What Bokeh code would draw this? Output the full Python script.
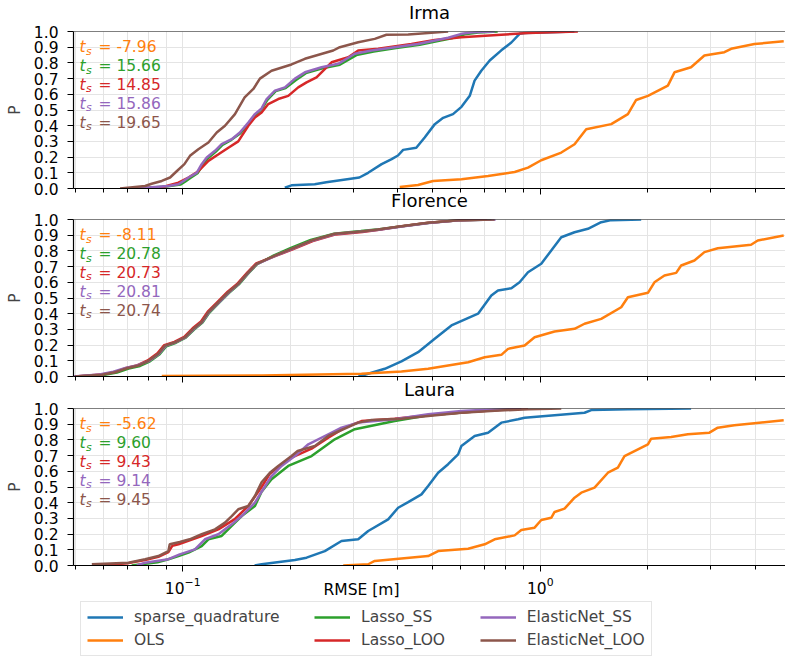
import numpy as np
from bokeh.plotting import figure
from bokeh.models import (Range1d, FixedTicker, Label, Legend, LegendItem, Span,
                          PrintfTickFormatter)
from bokeh.layouts import column
from bokeh.embed import file_html
from bokeh.resources import INLINE

# ---------------------------------------------------------------- data
METHODS = ["sparse_quadrature", "OLS", "Lasso_SS", "Lasso_LOO",
           "ElasticNet_SS", "ElasticNet_LOO"]
COLORS = ["#1f77b4", "#ff7f0e", "#2ca02c", "#d62728", "#9467bd", "#8c564b"]

# t_s statistics (OLS, Lasso_SS, Lasso_LOO, ElasticNet_SS, ElasticNet_LOO)
TS_IRMA = [-7.96, 15.66, 14.85, 15.86, 19.65]
TS_FLORENCE = [-8.11, 20.78, 20.73, 20.81, 20.74]
TS_LAURA = [-5.62, 9.60, 9.43, 9.14, 9.45]

# --- Irma: empirical CDF of RMSE [m]
IRMA_SPARSE_X = [0.193, 0.2015, 0.234, 0.252, 0.312, 0.330, 0.360, 0.384, 0.400, 0.4135,
                 0.450, 0.475, 0.507, 0.535, 0.570, 0.602, 0.635, 0.655, 0.684, 0.722,
                 0.778, 0.830, 0.875, 0.902, 1.245]
IRMA_SPARSE_P = [0.005, 0.02, 0.027, 0.04, 0.07, 0.10, 0.155, 0.187, 0.21, 0.246,
                 0.26, 0.325, 0.41, 0.45, 0.474, 0.52, 0.59, 0.687, 0.75, 0.815,
                 0.88, 0.93, 0.985, 0.99, 1.0]
IRMA_OLS_X = [0.4045, 0.455, 0.5015, 0.602, 0.7145, 0.848, 0.924, 1.006, 1.145, 1.247,
              1.344, 1.579, 1.758, 1.854, 2.0, 2.274, 2.373, 2.64, 2.877, 3.272,
              3.417, 3.97, 4.795]
IRMA_OLS_P = [0.01, 0.022, 0.048, 0.059, 0.08, 0.105, 0.133, 0.18, 0.229, 0.282,
              0.378, 0.41, 0.474, 0.564, 0.59, 0.655, 0.74, 0.772, 0.847, 0.868,
              0.89, 0.92, 0.938]
IRMA_LSS_X = [0.075, 0.090, 0.0985, 0.1015, 0.1048, 0.1100, 0.1138, 0.1172, 0.1238, 0.1292,
              0.1368, 0.1450, 0.1530, 0.1598, 0.1668, 0.1725, 0.1820, 0.1940, 0.2070, 0.2210,
              0.2460, 0.2750, 0.3060, 0.3420, 0.3950, 0.4600, 0.5050, 0.5650, 0.6150, 0.6700,
              0.7600]
IRMA_LSS_P = [0.0, 0.012, 0.025, 0.043, 0.066, 0.097, 0.15, 0.19, 0.235, 0.278,
              0.31, 0.352, 0.415, 0.468, 0.51, 0.565, 0.62, 0.64, 0.69, 0.735,
              0.765, 0.788, 0.85, 0.873, 0.895, 0.916, 0.934, 0.957, 0.982, 0.994,
              1.0]
IRMA_LLOO_X = [0.0768, 0.088, 0.0973, 0.1038, 0.1106, 0.118, 0.1259, 0.1342, 0.143, 0.1526,
               0.1592, 0.1662, 0.1735, 0.185, 0.1973, 0.2104, 0.222, 0.2367, 0.2608, 0.2903,
               0.3096, 0.352, 0.4361, 0.5067, 0.6017, 0.7782, 0.924, 1.274]
IRMA_LLOO_P = [0.0, 0.01, 0.037, 0.07, 0.11, 0.176, 0.218, 0.26, 0.30, 0.40,
               0.452, 0.484, 0.538, 0.57, 0.59, 0.644, 0.676, 0.708, 0.804, 0.836,
               0.879, 0.89, 0.92, 0.946, 0.963, 0.98, 0.99, 1.0]
IRMA_ESS_X = [0.0736, 0.0912, 0.0973, 0.1005, 0.1038, 0.1094, 0.1130, 0.1167, 0.1231, 0.1285,
              0.1371, 0.1445, 0.1526, 0.1592, 0.1662, 0.1717, 0.1811, 0.1931, 0.206, 0.2197,
              0.2445, 0.2722, 0.3029, 0.3373, 0.3917, 0.4552, 0.496, 0.5524, 0.6017, 0.6553,
              0.7455]
IRMA_ESS_P = [0.0, 0.016, 0.027, 0.048, 0.07, 0.10, 0.155, 0.197, 0.24, 0.282,
              0.314, 0.357, 0.42, 0.474, 0.51, 0.57, 0.623, 0.644, 0.70, 0.74,
              0.772, 0.794, 0.858, 0.879, 0.90, 0.92, 0.938, 0.96, 0.985, 0.996,
              1.0]
IRMA_ELOO_X = [0.0668, 0.0785, 0.0819, 0.0874, 0.0922, 0.0962, 0.1011, 0.1048, 0.1106, 0.118,
               0.1245, 0.1313, 0.140, 0.149, 0.1576, 0.1644, 0.1772, 0.2015, 0.2196, 0.2636,
               0.275, 0.3096, 0.3444, 0.3713, 0.4271, 0.529, 0.5524]
IRMA_ELOO_P = [0.0, 0.016, 0.03, 0.048, 0.07, 0.11, 0.155, 0.208, 0.25, 0.293,
               0.357, 0.40, 0.474, 0.58, 0.634, 0.70, 0.75, 0.79, 0.826, 0.879,
               0.90, 0.932, 0.953, 0.979, 0.981, 0.996, 1.0]

# --- Florence
FLOR_SPARSE_X = [0.310, 0.3230, 0.3674, 0.4090, 0.4553, 0.5067, 0.5643, 0.6699, 0.7295, 0.7616,
                 0.830, 0.8752, 0.9239, 1.0064, 1.0733, 1.1446, 1.2468, 1.3591, 1.4805, 1.579,
                 1.915]
FLOR_SPARSE_P = [0.003, 0.011, 0.049, 0.096, 0.155, 0.24, 0.325, 0.40, 0.516, 0.548,
                 0.562, 0.60, 0.664, 0.718, 0.803, 0.887, 0.919, 0.941, 0.983, 0.996,
                 1.0]
FLOR_OLS_X = [0.0874, 0.1662, 0.3162, 0.4090, 0.4857, 0.5524, 0.6284, 0.6991, 0.7782, 0.8125,
              0.9040, 0.9640, 1.0963, 1.2468, 1.3297, 1.4805, 1.6839, 1.758, 2.0, 2.0856,
              2.2245, 2.3987, 2.4770, 2.6977, 2.8771, 3.1359, 3.8855, 4.0566, 4.7940]
FLOR_OLS_P = [0.003, 0.006, 0.017, 0.032, 0.049, 0.07, 0.091, 0.123, 0.138, 0.176,
              0.197, 0.25, 0.287, 0.304, 0.336, 0.367, 0.441, 0.505, 0.533, 0.60,
              0.643, 0.66, 0.707, 0.739, 0.792, 0.817, 0.839, 0.866, 0.898]
FLOR_LSS_X = [0.0505, 0.0600, 0.0655, 0.0706, 0.0760, 0.0810, 0.0862, 0.0900, 0.0958, 0.1020,
              0.1078, 0.1136, 0.1186, 0.1265, 0.1348, 0.1436, 0.1530, 0.1615, 0.1800, 0.2000,
              0.2280, 0.2650, 0.3150, 0.3550, 0.4150, 0.4900, 0.6000, 0.7300]
FLOR_LSS_P = [0.0, 0.010, 0.025, 0.050, 0.067, 0.097, 0.142, 0.193, 0.215, 0.247,
              0.30, 0.343, 0.405, 0.47, 0.533, 0.587, 0.66, 0.715, 0.772, 0.817,
              0.87, 0.91, 0.926, 0.938, 0.958, 0.98, 0.996, 1.0]
FLOR_LLOO_X = [0.0500, 0.0590, 0.0645, 0.0695, 0.0748, 0.0798, 0.0850, 0.0888, 0.0948, 0.1010,
               0.1066, 0.1125, 0.1175, 0.1252, 0.1336, 0.1425, 0.1522, 0.1605, 0.1820, 0.2030,
               0.2310, 0.2680, 0.3180, 0.3500, 0.4050, 0.4800, 0.5900, 0.7100]
FLOR_LLOO_P = [0.0, 0.012, 0.028, 0.054, 0.072, 0.102, 0.148, 0.2, 0.22, 0.253,
               0.307, 0.35, 0.413, 0.476, 0.54, 0.593, 0.667, 0.72, 0.768, 0.81,
               0.862, 0.905, 0.92, 0.933, 0.955, 0.977, 0.995, 1.0]
FLOR_ESS_X = [0.0495, 0.0585, 0.0640, 0.0692, 0.0745, 0.0805, 0.0858, 0.0896, 0.0955, 0.1018,
              0.1075, 0.1133, 0.1183, 0.1262, 0.1345, 0.1433, 0.1528, 0.1612, 0.1815, 0.2020,
              0.2300, 0.2670, 0.3170, 0.3530, 0.4100, 0.4870, 0.6050, 0.7500]
FLOR_ESS_P = [0.0, 0.013, 0.03, 0.055, 0.071, 0.099, 0.144, 0.195, 0.217, 0.249,
              0.302, 0.345, 0.408, 0.471, 0.535, 0.589, 0.662, 0.716, 0.769, 0.812,
              0.865, 0.908, 0.923, 0.935, 0.956, 0.978, 0.996, 1.0]
FLOR_ELOO_X = [0.0500, 0.0594, 0.0647, 0.0698, 0.0752, 0.0802, 0.0855, 0.0893, 0.0952, 0.1015,
               0.1071, 0.1130, 0.1180, 0.1258, 0.1341, 0.1430, 0.1526, 0.1610, 0.1811, 0.2015,
               0.2293, 0.2663, 0.3162, 0.3520, 0.4090, 0.4857, 0.6017, 0.7455]
FLOR_ELOO_P = [0.0, 0.011, 0.027, 0.053, 0.07, 0.10, 0.145, 0.197, 0.218, 0.25,
               0.304, 0.346, 0.41, 0.473, 0.537, 0.59, 0.664, 0.718, 0.77, 0.813,
               0.866, 0.909, 0.924, 0.936, 0.957, 0.979, 0.996, 1.0]

# --- Laura
LAURA_SPARSE_X = [0.1589, 0.1662, 0.2059, 0.2220, 0.2497, 0.2780, 0.3096, 0.3302, 0.3755, 0.4004,
                  0.4271, 0.4653, 0.4857, 0.5180, 0.5524, 0.5891, 0.6017, 0.6553, 0.7145, 0.7782,
                  0.8663, 0.9040, 1.0963, 1.3297, 1.3883, 1.758, 2.6409]
LAURA_SPARSE_P = [0.0, 0.008, 0.035, 0.05, 0.092, 0.156, 0.167, 0.22, 0.294, 0.368,
                  0.404, 0.453, 0.506, 0.591, 0.645, 0.708, 0.761, 0.825, 0.846, 0.91,
                  0.931, 0.941, 0.957, 0.973, 0.99, 0.995, 1.0]
LAURA_OLS_X = [0.2811, 0.3302, 0.3444, 0.4857, 0.5180, 0.6284, 0.6991, 0.7455, 0.8478, 0.8849,
               0.9640, 1.0064, 1.0733, 1.0963, 1.1691, 1.2468, 1.3022, 1.4183, 1.5459, 1.6482,
               1.7199, 1.8342, 2.0, 2.0420, 2.3226, 2.5857, 2.9717, 3.1359, 3.4893, 3.97,
               4.794]
LAURA_OLS_P = [0.0, 0.008, 0.029, 0.06, 0.092, 0.107, 0.135, 0.167, 0.192, 0.226,
               0.241, 0.29, 0.304, 0.341, 0.362, 0.432, 0.464, 0.496, 0.591, 0.623,
               0.697, 0.729, 0.772, 0.808, 0.818, 0.836, 0.846, 0.878, 0.893, 0.906,
               0.925]
LAURA_LSS_X = [0.0720, 0.0850, 0.0912, 0.0973, 0.1038, 0.1130, 0.1180, 0.1285, 0.1371, 0.1462,
               0.1592, 0.1662, 0.1772, 0.1973, 0.2293, 0.2663, 0.3029, 0.3917, 0.4857, 0.6284,
               0.7455, 0.8849]
LAURA_LSS_P = [0.0, 0.02, 0.04, 0.06, 0.082, 0.124, 0.167, 0.188, 0.252, 0.315,
               0.379, 0.47, 0.549, 0.634, 0.697, 0.804, 0.868, 0.92, 0.957, 0.978,
               0.99, 1.0]
LAURA_LLOO_X = [0.0580, 0.0705, 0.0785, 0.0855, 0.0912, 0.0935, 0.0973, 0.1130, 0.1258, 0.1395,
                0.1526, 0.1662, 0.1753, 0.1850, 0.2015, 0.2293, 0.2553, 0.2840, 0.3162, 0.3917,
                0.4857, 0.6284, 0.8300, 0.9239]
LAURA_LLOO_P = [0.0, 0.015, 0.035, 0.055, 0.085, 0.125, 0.135, 0.188, 0.23, 0.294,
                0.379, 0.50, 0.585, 0.628, 0.687, 0.744, 0.814, 0.878, 0.92, 0.935,
                0.957, 0.978, 0.995, 1.0]
LAURA_ESS_X = [0.0744, 0.0785, 0.0912, 0.0981, 0.1082, 0.1154, 0.1258, 0.1371, 0.1462, 0.1592,
               0.1662, 0.1772, 0.1890, 0.2059, 0.2245, 0.2553, 0.2780, 0.3096, 0.3917, 0.4857,
               0.6017, 0.7455, 0.8849]
LAURA_ESS_P = [0.0, 0.018, 0.04, 0.071, 0.103, 0.167, 0.199, 0.262, 0.315, 0.40,
               0.47, 0.57, 0.634, 0.697, 0.772, 0.836, 0.878, 0.91, 0.931, 0.963,
               0.984, 0.995, 1.0]
LAURA_ELOO_X = [0.0557, 0.0705, 0.0785, 0.0855, 0.0912, 0.0920, 0.0981, 0.1046, 0.1130, 0.1231,
                0.1313, 0.1371, 0.1430, 0.1526, 0.1592, 0.1662, 0.1753, 0.1850, 0.2015, 0.2096,
                0.2342, 0.2553, 0.2780, 0.3096, 0.3373, 0.4090, 0.4857, 0.6017, 0.7455, 0.9239,
                1.1446]
LAURA_ELOO_P = [0.008, 0.018, 0.04, 0.06, 0.092, 0.135, 0.15, 0.167, 0.199, 0.23,
                0.273, 0.315, 0.358, 0.379, 0.443, 0.53, 0.591, 0.634, 0.697, 0.729,
                0.761, 0.825, 0.863, 0.91, 0.927, 0.935, 0.952, 0.973, 0.986, 0.995,
                1.0]

Y_TICKS = [0.0, 0.1, 0.2, 0.3, 0.4, 0.5, 0.6, 0.7, 0.8, 0.9, 1.0]
X_MAJOR = [0.1, 1.0]
X_MINOR = [0.05, 0.06, 0.07, 0.08, 0.09, 0.2, 0.3, 0.4, 0.5, 0.6, 0.7, 0.8, 0.9,
           2.0, 3.0, 4.0]
XLABEL_AT = 0.3162   # horizontal centre of the shared x-axis caption

# ---------------------------------------------------------------- styling
FONT = "DejaVu Sans"
FS = "15.5px"
GRID = "#e4e4e4"
W = 785
LEFT = 73
FRAME_H = 157
TOP = 44                      # room above each frame for its title
FRAME_TOPS = [31, 219, 408]   # page position of each panel's frame
BOTTOMS = [30, 30, 92]
X_RANGE = Range1d(0.0495, 4.85)


def panel(name, curves, ts, idx):
    bottom = BOTTOMS[idx]
    last = idx == len(FRAME_TOPS) - 1
    if idx == 0:
        prev_end = 0
    else:
        prev_end = FRAME_TOPS[idx - 1] + FRAME_H + BOTTOMS[idx - 1]
    p = figure(width=W, height=TOP + FRAME_H + bottom, x_axis_type="log",
               x_range=X_RANGE, y_range=Range1d(0, 1),
               output_backend="svg", toolbar_location=None,
               min_border_left=LEFT, min_border_right=0,
               min_border_top=TOP, min_border_bottom=bottom)
    # panels overlap slightly so each title sits in the gap above its frame
    p.margin = (FRAME_TOPS[idx] - TOP - prev_end, 0, 0, 0)
    p.outline_line_color = None
    p.border_fill_color = None
    p.background_fill_color = "white"

    p.title.text = name
    p.title.align = "center"
    p.title.text_font = FONT
    p.title.text_font_size = "18px"
    p.title.text_font_style = "normal"
    p.title.text_color = "black"
    p.title.standoff = 18

    renderers = []
    for (xs, ps), color in zip(curves, COLORS):
        renderers.append(p.line(xs, ps, line_color=color, line_width=2.5))

    # axes
    xt = FixedTicker(ticks=X_MAJOR, minor_ticks=X_MINOR)
    yt = FixedTicker(ticks=Y_TICKS, minor_ticks=[])
    for ax in (p.xaxis[0], p.yaxis[0]):
        ax.axis_line_color = "black"
        ax.axis_line_width = 1.2
        ax.major_tick_line_color = "black"
        ax.minor_tick_line_color = "black"
        ax.major_tick_in = 0
        ax.minor_tick_in = 0
        ax.major_tick_out = 6
        ax.minor_tick_out = 4
        ax.major_label_text_font = FONT
        ax.major_label_text_font_size = FS
        ax.major_label_text_color = "black"
    p.xaxis[0].ticker = xt
    p.yaxis[0].ticker = yt
    p.yaxis[0].minor_tick_out = 0
    p.yaxis[0].formatter = PrintfTickFormatter(format="%.1f")
    p.yaxis[0].major_label_standoff = 9
    p.yaxis[0].axis_label = "P"
    p.yaxis[0].axis_label_text_font = FONT
    p.yaxis[0].axis_label_text_font_size = FS
    p.yaxis[0].axis_label_text_font_style = "normal"
    p.yaxis[0].axis_label_standoff = 7
    if last:
        p.xaxis[0].major_label_standoff = 5
    else:
        # shared x axis: tick marks only on the upper panels
        p.xaxis[0].major_label_text_font_size = "1px"
        p.xaxis[0].major_label_text_color = None
        p.xaxis[0].major_label_standoff = 0

    p.xgrid.ticker = xt
    p.ygrid.ticker = yt
    p.xgrid.grid_line_color = GRID
    p.xgrid.minor_grid_line_color = GRID
    p.ygrid.grid_line_color = GRID

    # top spine
    p.add_layout(Span(location=1.0, dimension="width", line_color="black",
                      line_width=1.2))

    # t_s annotations
    for i, (v, color) in enumerate(zip(ts, COLORS[1:])):
        yv = 0.9 - 0.12 * i
        common = dict(y=yv, x_units="screen", y_units="data", text_color=color,
                      text_font=FONT, text_baseline="middle")
        p.add_layout(Label(x=6, text="t", text_font_style="italic",
                           text_font_size=FS, **common))
        p.add_layout(Label(x=12.5, y_offset=-4, text="s", text_font_style="italic",
                           text_font_size="11px", **common))
        p.add_layout(Label(x=25, text=f"= {v:.2f}", text_font_size=FS, **common))
    return p, renderers


def curves(*arrays):
    return [(arrays[i], arrays[i + 1]) for i in range(0, len(arrays), 2)]


p1, _ = panel("Irma", curves(IRMA_SPARSE_X, IRMA_SPARSE_P, IRMA_OLS_X, IRMA_OLS_P,
                             IRMA_LSS_X, IRMA_LSS_P, IRMA_LLOO_X, IRMA_LLOO_P,
                             IRMA_ESS_X, IRMA_ESS_P, IRMA_ELOO_X, IRMA_ELOO_P),
              TS_IRMA, 0)
p2, _ = panel("Florence", curves(FLOR_SPARSE_X, FLOR_SPARSE_P, FLOR_OLS_X, FLOR_OLS_P,
                                 FLOR_LSS_X, FLOR_LSS_P, FLOR_LLOO_X, FLOR_LLOO_P,
                                 FLOR_ESS_X, FLOR_ESS_P, FLOR_ELOO_X, FLOR_ELOO_P),
              TS_FLORENCE, 1)
p3, _ = panel("Laura", curves(LAURA_SPARSE_X, LAURA_SPARSE_P, LAURA_OLS_X, LAURA_OLS_P,
                              LAURA_LSS_X, LAURA_LSS_P, LAURA_LLOO_X, LAURA_LLOO_P,
                              LAURA_ESS_X, LAURA_ESS_P, LAURA_ELOO_X, LAURA_ELOO_P),
              TS_LAURA, 2)

# caption strip and legend, laid over the bottom border of the last panel
STRIP_H = 80
p4 = figure(width=W, height=STRIP_H, x_axis_type="log", x_range=X_RANGE,
            y_range=Range1d(0, 1), output_backend="svg", toolbar_location=None,
            min_border_left=LEFT, min_border_right=0, min_border_top=0,
            min_border_bottom=0)
p4.margin = (-STRIP_H, 0, 0, 0)
p4.axis.visible = False
p4.grid.visible = False
p4.outline_line_color = None
p4.background_fill_color = None
p4.border_fill_color = None
p4.add_layout(Label(x=XLABEL_AT, y=0.85, text="RMSE [m]", text_align="center",
                    text_baseline="middle", text_font=FONT, text_font_size=FS,
                    text_color="black"))

# legend keys: line styles only, no visible data
keys = [p4.line(x=np.array([XLABEL_AT]), y=np.array([np.nan]), line_color=c,
                line_width=2.5) for c in COLORS]
# trailing blanks widen the first two legend columns
PAD = " " * 6
labels = [METHODS[0] + PAD, METHODS[1], METHODS[2], METHODS[3] + PAD,
          METHODS[4], METHODS[5]]
legend = Legend(items=[LegendItem(label=m, renderers=[r]) for m, r in zip(labels, keys)],
                location=(7, 1), orientation="vertical", nrows=2,
                label_text_font=FONT, label_text_font_size=FS,
                glyph_width=36, glyph_height=18, label_standoff=11, spacing=5,
                padding=6, margin=0, border_line_color="#cccccc",
                border_line_width=1, background_fill_alpha=0.8)
p4.add_layout(legend)

layout = column(p1, p2, p3, p4, spacing=0)
open("out.html", "w").write(file_html(layout, INLINE))
